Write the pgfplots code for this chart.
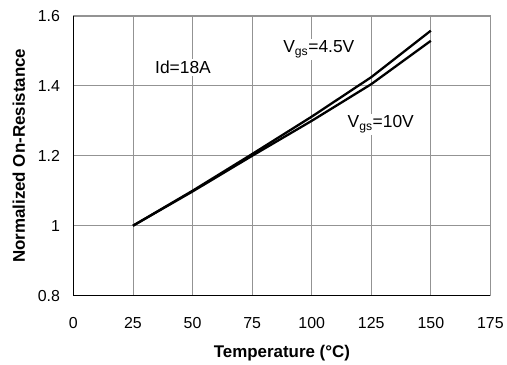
\documentclass[border=0pt]{standalone}
\usepackage{fontspec}
\setmainfont{Liberation Sans}
\usepackage{pgfplots}
\pgfplotsset{compat=1.18}
\begin{document}
\begin{tikzpicture}
\begin{axis}[
  scale only axis,
  width=417.5bp, height=280bp,
  xmin=0, xmax=175, ymin=0.8, ymax=1.6,
  xtick={0,25,...,175},
  ytick={0.8,1,1.2,1.4,1.6},
  yticklabels={0.8,1,1.2,1.4,1.6},
  xmajorgrids=true, ymajorgrids=true,
  major grid style={draw=gray!85, line width=0.8bp},
  axis x line*=bottom, axis y line*=left,
  axis line style={black, line width=1.5bp},
  tick style={draw=none},
  tick label style={font=\fontsize{16}{18}\selectfont},
  xticklabel style={yshift=-18bp},
  yticklabel style={xshift=-10bp},
  /pgf/number format/assume math mode=true,
  xlabel={\bfseries Temperature (°C)},
  ylabel={\bfseries Normalized On-Resistance},
  label style={font=\fontsize{17}{19}\selectfont},
  xlabel style={yshift=-10bp},
  ylabel style={yshift=6bp},
  clip=false,
]
\addplot[black, line width=2.3bp] coordinates {(25,1.0) (50,1.1) (75,1.205) (100,1.312) (125,1.425) (150,1.558)};
\addplot[black, line width=2.3bp] coordinates {(25,1.0) (50,1.098) (75,1.2) (100,1.30) (125,1.405) (150,1.529)};
\node[fill=white, inner sep=2bp, font=\fontsize{17.5}{19}\selectfont] at (axis cs:46,1.452) {Id=18A};
\node[fill=white, inner sep=2bp, font=\fontsize{17.5}{19}\selectfont] at (axis cs:103,1.505) {V\textsubscript{gs}=4.5V};
\node[fill=white, inner sep=2bp, font=\fontsize{17.5}{19}\selectfont] at (axis cs:129,1.29) {V\textsubscript{gs}=10V};
\end{axis}
\draw[gray!85, line width=1bp] (current axis.north west) -- (current axis.north east) -- (current axis.south east);
\path (current axis.south west) ++(-73.5bp,-63bp) rectangle ++(507bp,359bp);
\end{tikzpicture}
\end{document}
